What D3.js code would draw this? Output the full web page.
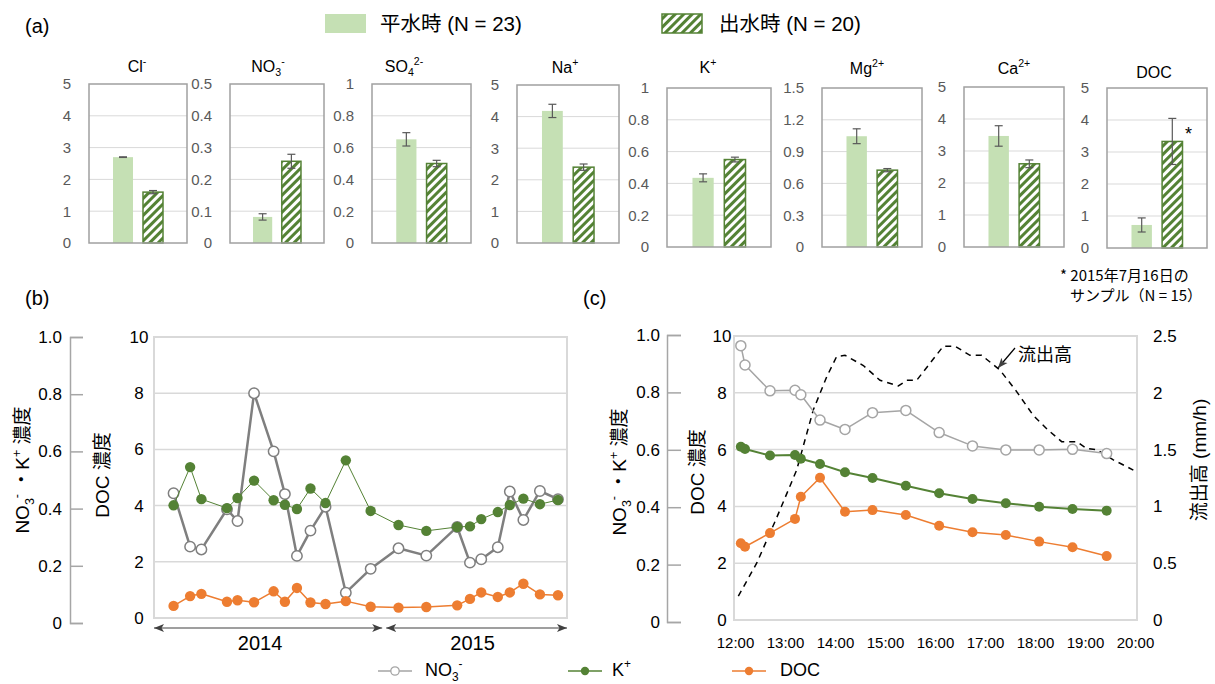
<!DOCTYPE html>
<html>
<head>
<meta charset="utf-8">
<script src="https://cdn.jsdelivr.net/npm/d3@7"></script>
<style>
  body { margin: 0; background: #fff; }
  svg text { font-family: "Liberation Sans", Arial, "Noto Sans CJK JP", sans-serif; }
</style>
</head>
<body>
<svg id="chart" width="1215" height="684"></svg>
<script>

// ---------- (a) mean concentrations, normal flow vs storm flow
var ionLabels  = ["Cl^{-}", "NO_{3}^{-}", "SO_{4}^{2-}", "Na^{+}", "K^{+}", "Mg^{2+}", "Ca^{2+}", "DOC"];
var normalMean = [2.7, 0.082, 0.652, 4.18, 0.435, 1.045, 3.47, 0.72];
var normalErr  = [0.01, 0.01, 0.042, 0.21, 0.025, 0.07, 0.32, 0.22];
var floodMean  = [1.6, 0.257, 0.50, 2.4, 0.55, 0.725, 2.6, 3.33];
var floodErr   = [0.05, 0.022, 0.02, 0.1, 0.015, 0.015, 0.12, 0.72];
var ionMax     = [5, 0.5, 1, 5, 1, 1.5, 5, 5];
var ionStep    = [1, 0.1, 0.2, 1, 0.2, 0.3, 1, 1];
var legendA    = ["平水時 (N = 23)", "出水時 (N = 20)"];
var footnote   = ["* 2015年7月16日の", "サンプル（N = 15）"];

// ---------- (b) monthly samples 2014-2015
var bDates = ["2014-03-27", "2014-04-18", "2014-05-03", "2014-06-06", "2014-06-20", "2014-07-12",
              "2014-08-07", "2014-08-22", "2014-09-07", "2014-09-25", "2014-10-15", "2014-11-11",
              "2014-12-14", "2015-01-20", "2015-02-26", "2015-04-08", "2015-04-25", "2015-05-10",
              "2015-06-01", "2015-06-17", "2015-07-05", "2015-07-27", "2015-08-20"];
var bNO3 = [0.444, 0.254, 0.244, 0.387, 0.345, 0.800, 0.593, 0.441, 0.221, 0.311, 0.396, 0.090,
            0.175, 0.248, 0.222, 0.324, 0.197, 0.209, 0.252, 0.450, 0.349, 0.452, 0.423];
var bK   = [0.401, 0.537, 0.423, 0.391, 0.427, 0.489, 0.419, 0.403, 0.388, 0.461, 0.409, 0.561,
            0.381, 0.331, 0.310, 0.324, 0.326, 0.352, 0.377, 0.402, 0.425, 0.405, 0.420];
var bDOC = [0.43, 0.78, 0.86, 0.58, 0.63, 0.56, 0.95, 0.58, 1.07, 0.55, 0.50, 0.60,
            0.40, 0.37, 0.39, 0.45, 0.68, 0.91, 0.75, 0.91, 1.22, 0.84, 0.81];
var years = ["2014", "2015"];

// ---------- (c) storm event 2015-07-16
var cTimes = ["12:07", "12:12", "12:42", "13:12", "13:19", "13:42", "14:12", "14:45",
              "15:25", "16:05", "16:45", "17:25", "18:05", "18:45", "19:26"];
var cNO3 = [0.966, 0.898, 0.807, 0.809, 0.793, 0.704, 0.671, 0.730, 0.738, 0.660, 0.613, 0.599, 0.599, 0.601, 0.586];
var cK   = [0.610, 0.602, 0.579, 0.581, 0.568, 0.549, 0.520, 0.500, 0.473, 0.446, 0.426, 0.411, 0.399, 0.391, 0.385];
var cDOC = [2.70, 2.58, 3.06, 3.56, 4.34, 5.01, 3.81, 3.87, 3.70, 3.32, 3.09, 2.99, 2.76, 2.56, 2.25];
var flowTimes  = ["12:04", "12:26", "12:50", "13:14", "13:34", "13:50", "14:02", "14:12", "14:34", "14:54",
                  "15:16", "15:26", "15:38", "15:54", "16:10", "16:24", "16:42", "16:56", "17:18", "17:38",
                  "17:58", "18:16", "18:32", "18:50", "19:02", "19:14", "19:34", "19:58"];
var flowValues = [0.21, 0.50, 0.90, 1.32, 1.85, 2.14, 2.32, 2.33, 2.24, 2.11,
                  2.06, 2.11, 2.11, 2.26, 2.41, 2.41, 2.33, 2.33, 2.20, 2.01,
                  1.80, 1.67, 1.57, 1.57, 1.51, 1.50, 1.41, 1.32];

var seriesNames = ["NO_{3}^{-}", "K^{+}", "DOC"];

// colours
var LIGHT_GREEN = "#c5e0b4", DARK_GREEN = "#548235", ORANGE = "#ed7d31";
var GRID = "#d9d9d9", TXT_GRAY = "#595959";

var svg = d3.select("#chart");
var defs = svg.append("defs");

// diagonal hatch for the storm-flow bars
var pat = defs.append("pattern")
    .attr("id", "hatch")
    .attr("patternUnits", "userSpaceOnUse")
    .attr("width", 6).attr("height", 6)
    .attr("patternTransform", "rotate(45)");
pat.append("rect").attr("width", 6).attr("height", 6).attr("fill", "#fff");
pat.append("rect").attr("width", 3).attr("height", 6).attr("fill", DARK_GREEN);

defs.append("marker")
    .attr("id", "arr")
    .attr("viewBox", "0 -5 10 10")
    .attr("refX", 10).attr("refY", 0)
    .attr("markerWidth", 10).attr("markerHeight", 10)
    .attr("markerUnits", "userSpaceOnUse")
    .attr("orient", "auto-start-reverse")
  .append("path")
    .attr("d", "M0,-4L10,0L0,4L2.5,0Z")
    .attr("fill", "#404040");

// text with _{sub} and ^{sup} parts
function rich(sel, str, fs) {
  var parts = str.match(/_\{[^}]*\}|\^\{[^}]*\}|[^_^]+/g);
  var off = 0;
  parts.forEach(function (p) {
    var type = p[0] === "_" ? "sub" : (p[0] === "^" ? "sup" : "");
    var t = type ? p.slice(2, -1) : p;
    var target = type === "sub" ? fs * 0.28 : (type === "sup" ? -fs * 0.42 : 0);
    sel.append("tspan")
        .attr("dy", target - off)
        .attr("font-size", type ? fs * 0.66 : fs)
        .text(t);
    off = target;
  });
  return sel;
}

function label(x, y, str, fs, anchor) {
  return svg.append("text")
      .attr("x", x).attr("y", y)
      .attr("font-size", fs)
      .attr("text-anchor", anchor || "start")
      .attr("fill", "#000")
      .text(str);
}

// ================= (a) =================
label(25, 33, "(a)", 20);

// legend
svg.append("rect").attr("x", 325).attr("y", 14).attr("width", 41).attr("height", 19).attr("fill", LIGHT_GREEN);
label(380, 31, legendA[0], 20.5);
svg.append("rect").attr("x", 662).attr("y", 14).attr("width", 40).attr("height", 19)
    .attr("fill", "url(#hatch)").attr("stroke", DARK_GREEN).attr("stroke-width", 1.5);
label(719, 31, legendA[1], 20.5);

// panel boxes [x0, x1, y0, y1] and title positions
var boxA   = [[89, 187, 84, 243], [230, 324, 84, 243], [372, 471, 84, 243], [517, 619, 85, 243],
              [667, 771, 88, 247], [822, 922, 88, 247], [964, 1064, 87, 247], [1107, 1207, 88, 248]];
var titleX = [137, 268, 404, 565, 708, 867, 1014, 1154];
var titleY = [72, 72, 72, 73, 73, 74, 74, 78];

ionLabels.forEach(function (name, i) {
  var b = boxA[i];
  var g = svg.append("g");
  var y = d3.scaleLinear().domain([0, ionMax[i]]).range([b[3], b[2]]);
  var x = d3.scaleBand().domain(["normal", "flood"]).range([b[0], b[1]])
      .paddingInner(1 / 3).paddingOuter(0.8);
  var ticks = d3.range(0, Math.round(ionMax[i] / ionStep[i]) + 1)
      .map(function (k) { return +(k * ionStep[i]).toFixed(2); });

  g.selectAll(".grid").data(ticks.slice(1, -1)).enter().append("line")
      .attr("x1", b[0]).attr("x2", b[1])
      .attr("y1", function (d) { return y(d); }).attr("y2", function (d) { return y(d); })
      .attr("stroke", GRID).attr("stroke-width", 1);

  var ax = g.append("g").attr("transform", "translate(" + b[0] + ",0)")
      .call(d3.axisLeft(y).tickValues(ticks).tickSize(0).tickPadding(18).tickFormat(function (d) { return String(d); }));
  ax.select(".domain").remove();
  ax.selectAll("text").attr("font-size", 15).attr("fill", TXT_GRAY)
      .attr("font-family", "\"Liberation Sans\", Arial, sans-serif");

  var rows = [
    { key: "normal", m: normalMean[i], e: normalErr[i] },
    { key: "flood",  m: floodMean[i],  e: floodErr[i] }
  ];
  g.selectAll(".bar").data(rows).enter().append("rect")
      .attr("x", function (d) { return x(d.key); })
      .attr("width", x.bandwidth())
      .attr("y", function (d) { return y(d.m); })
      .attr("height", function (d) { return y(0) - y(d.m); })
      .attr("fill", function (d) { return d.key === "normal" ? LIGHT_GREEN : "url(#hatch)"; })
      .attr("stroke", function (d) { return d.key === "normal" ? "none" : DARK_GREEN; })
      .attr("stroke-width", 1.5);

  var eb = g.selectAll(".err").data(rows).enter().append("g")
      .attr("stroke", TXT_GRAY).attr("stroke-width", 1.2);
  eb.append("line")
      .attr("x1", function (d) { return x(d.key) + x.bandwidth() / 2; })
      .attr("x2", function (d) { return x(d.key) + x.bandwidth() / 2; })
      .attr("y1", function (d) { return y(d.m - d.e); })
      .attr("y2", function (d) { return y(d.m + d.e); });
  [-1, 1].forEach(function (s) {
    eb.append("line")
        .attr("x1", function (d) { return x(d.key) + x.bandwidth() / 2 - 4; })
        .attr("x2", function (d) { return x(d.key) + x.bandwidth() / 2 + 4; })
        .attr("y1", function (d) { return y(d.m + s * d.e); })
        .attr("y2", function (d) { return y(d.m + s * d.e); });
  });

  g.append("rect")
      .attr("x", b[0]).attr("y", b[2])
      .attr("width", b[1] - b[0]).attr("height", b[3] - b[2])
      .attr("fill", "none").attr("stroke", "#a0a0a0").attr("stroke-width", 1.5);

  rich(g.append("text").attr("x", titleX[i]).attr("y", titleY[i])
      .attr("text-anchor", "middle").attr("fill", "#000"), name, 16);

  if (name === "DOC") {
    g.append("text")
        .attr("x", x("flood") + x.bandwidth() + 6)
        .attr("y", y(floodMean[i] + floodErr[i]) + 22)
        .attr("text-anchor", "middle").attr("font-size", 18).text("*");
  }
});

svg.append("text").attr("x", 1060).attr("y", 281).attr("font-size", 15)
    .style("font-family", "\"Noto Sans CJK JP\", sans-serif").text(footnote[0]);
svg.append("text").attr("x", 1070).attr("y", 301).attr("font-size", 15)
    .style("font-family", "\"Noto Sans CJK JP\", sans-serif").text(footnote[1]);

// ================= (b) =================
label(25, 305, "(b)", 20);

var parseD = d3.timeParse("%Y-%m-%d");
var xB = d3.scaleTime().domain([parseD("2014-03-01"), parseD("2015-09-01")]).range([154, 567]);
var yB = d3.scaleLinear().domain([0, 10]).range([618, 337]);
var yBL = d3.scaleLinear().domain([0, 1]).range([618, 337]);
var yBLaxis = d3.scaleLinear().domain([0, 1]).range([623, 337]);

var gb = svg.append("g");
gb.selectAll(".grid").data([2, 4, 6, 8]).enter().append("line")
    .attr("x1", 154).attr("x2", 567)
    .attr("y1", function (d) { return yB(d); }).attr("y2", function (d) { return yB(d); })
    .attr("stroke", GRID).attr("stroke-width", 1.5);
gb.append("rect").attr("x", 154).attr("y", 337).attr("width", 567 - 154).attr("height", 618 - 337)
    .attr("fill", "none").attr("stroke", GRID).attr("stroke-width", 2);

// DOC labels sit centred in the gap, as in the original
var axBDoc = gb.append("g").attr("transform", "translate(154,0)")
    .call(d3.axisLeft(yB).tickValues([0, 2, 4, 6, 8, 10]).tickSize(0).tickPadding(15));
axBDoc.select(".domain").remove();
axBDoc.selectAll("text").attr("text-anchor", "middle");

var axBL = gb.append("g").attr("transform", "translate(70,0)")
    .call(d3.axisLeft(yBLaxis).tickValues([0, 0.2, 0.4, 0.6, 0.8, 1]).tickSize(-13).tickPadding(8)
      .tickFormat(function (d) { return d === 0 ? "0" : d.toFixed(1); }));
axBL.selectAll("line, path").attr("stroke", "#a6a6a6").attr("stroke-width", 1.5);
gb.selectAll(".tick text").attr("font-size", 17).attr("fill", "#000");

rich(svg.append("text").attr("transform", "translate(29,470) rotate(-90)")
    .attr("text-anchor", "middle"), "NO_{3}^{-} ・K^{+} 濃度", 19);
rich(svg.append("text").attr("transform", "translate(109,475) rotate(-90)")
    .attr("text-anchor", "middle"), "DOC 濃度", 19);

function series(g, xs, ys, color, width, r, open) {
  var pts = xs.map(function (d, k) { return [d, ys[k]]; });
  g.append("path").datum(pts)
      .attr("d", d3.line())
      .attr("fill", "none").attr("stroke", color).attr("stroke-width", width)
      .attr("stroke-linejoin", "round");
  g.selectAll(null).data(pts).enter().append("circle")
      .attr("cx", function (d) { return d[0]; }).attr("cy", function (d) { return d[1]; })
      .attr("r", r)
      .attr("fill", open ? "#fff" : color)
      .attr("stroke", color).attr("stroke-width", open ? 1.5 : 0);
}

var bX = bDates.map(function (d) { return xB(parseD(d)); });
series(gb, bX, bNO3.map(yBL), "#7f7f7f", 2.5, 5.2, true);
series(gb, bX, bK.map(yBL), DARK_GREEN, 1, 5.2, false);
series(gb, bX, bDOC.map(yB), ORANGE, 1.5, 5.2, false);

// year arrows
var xYear = xB(parseD("2015-01-01"));
var yearSpans = [[xB.range()[0], xYear - 2], [xYear + 2, xB.range()[1]]];
yearSpans.forEach(function (s, k) {
  gb.append("line").attr("x1", s[0]).attr("x2", s[1]).attr("y1", 628).attr("y2", 628)
      .attr("stroke", "#404040").attr("stroke-width", 1.2)
      .attr("marker-start", "url(#arr)").attr("marker-end", "url(#arr)");
  label((s[0] + s[1]) / 2 - (k === 0 ? 8 : 4), 650, years[k], 20, "middle");
});

// ================= (c) =================
label(583, 305, "(c)", 20);

var parseT = d3.timeParse("%Y-%m-%d %H:%M");
function tm(s) { return parseT("2015-07-16 " + s); }
var xC = d3.scaleTime().domain([tm("12:00"), tm("20:00")]).range([735, 1135]);
var yC = d3.scaleLinear().domain([0, 10]).range([620, 336]);
var yCL = d3.scaleLinear().domain([0, 1]).range([620, 336]);
var yCLaxis = d3.scaleLinear().domain([0, 1]).range([622, 335]);
var yCR = d3.scaleLinear().domain([0, 2.5]).range([620, 336]);

var gc = svg.append("g");
gc.selectAll(".grid").data([2, 4, 6, 8]).enter().append("line")
    .attr("x1", 734).attr("x2", 1137)
    .attr("y1", function (d) { return yC(d); }).attr("y2", function (d) { return yC(d); })
    .attr("stroke", GRID).attr("stroke-width", 1.5);
gc.append("rect").attr("x", 734).attr("y", 336).attr("width", 1137 - 734).attr("height", 620 - 336)
    .attr("fill", "none").attr("stroke", GRID).attr("stroke-width", 2);

var axCDoc = gc.append("g").attr("transform", "translate(734,0)")
    .call(d3.axisLeft(yC).tickValues([0, 2, 4, 6, 8, 10]).tickSize(0).tickPadding(12));
axCDoc.select(".domain").remove();
axCDoc.selectAll("text").attr("text-anchor", "middle");

var axCL = gc.append("g").attr("transform", "translate(667,0)")
    .call(d3.axisLeft(yCLaxis).tickValues([0, 0.2, 0.4, 0.6, 0.8, 1]).tickSize(-14).tickPadding(7)
      .tickFormat(function (d) { return d === 0 ? "0" : d.toFixed(1); }));
axCL.selectAll("line, path").attr("stroke", "#a6a6a6").attr("stroke-width", 1.5);

var axCR = gc.append("g").attr("transform", "translate(1137,0)")
    .call(d3.axisRight(yCR).tickValues([0, 0.5, 1, 1.5, 2, 2.5]).tickSize(0).tickPadding(16)
      .tickFormat(function (d) { return String(d); }));
axCR.select(".domain").remove();
gc.selectAll(".tick text").attr("font-size", 17).attr("fill", "#000");

var axCX = gc.append("g").attr("transform", "translate(0,620)")
    .call(d3.axisBottom(xC).ticks(d3.timeHour.every(1)).tickSize(0).tickPadding(17)
      .tickFormat(d3.timeFormat("%H:%M")));
axCX.select(".domain").remove();
axCX.selectAll("text").attr("font-size", 15).attr("fill", "#000");

rich(svg.append("text").attr("transform", "translate(626,472) rotate(-90)")
    .attr("text-anchor", "middle"), "NO_{3}^{-} ・K^{+} 濃度", 19);
rich(svg.append("text").attr("transform", "translate(704,472) rotate(-90)")
    .attr("text-anchor", "middle"), "DOC 濃度", 19);
rich(svg.append("text").attr("transform", "translate(1206,460) rotate(-90)")
    .attr("text-anchor", "middle"), "流出高 (mm/h)", 19);

// runoff (dashed)
gc.append("path")
    .datum(flowTimes.map(function (t, k) { return [xC(tm(t)), yCR(flowValues[k])]; }))
    .attr("d", d3.line())
    .attr("fill", "none").attr("stroke", "#000").attr("stroke-width", 1.5)
    .attr("stroke-dasharray", "6,5");

var cX = cTimes.map(function (t) { return xC(tm(t)); });
series(gc, cX, cNO3.map(yCL), "#a5a5a5", 1.5, 5, true);
series(gc, cX, cK.map(yCL), DARK_GREEN, 2, 5, false);
series(gc, cX, cDOC.map(yC), ORANGE, 1.5, 5, false);

// annotation
gc.append("line").attr("x1", 1015).attr("y1", 348).attr("x2", 998).attr("y2", 368)
    .attr("stroke", "#000").attr("stroke-width", 1.2).attr("marker-end", "url(#arr)");
svg.append("text").attr("x", 1018).attr("y", 361).attr("font-size", 18)
    .style("font-family", "\"Noto Sans CJK JP\", sans-serif").text("流出高");

// ================= bottom legend =================
var legB = [
  { x0: 378, color: "#a5a5a5", open: true,  name: seriesNames[0], tx: 425 },
  { x0: 568, color: DARK_GREEN, open: false, name: seriesNames[1], tx: 612 },
  { x0: 732, color: ORANGE,     open: false, name: seriesNames[2], tx: 780 }
];
var gl = svg.append("g");
legB.forEach(function (d) {
  gl.append("line").attr("x1", d.x0).attr("x2", d.x0 + 34).attr("y1", 671).attr("y2", 671)
      .attr("stroke", d.color).attr("stroke-width", 1.5);
  gl.append("circle").attr("cx", d.x0 + 17).attr("cy", 671).attr("r", 4.2)
      .attr("fill", d.open ? "#fff" : d.color).attr("stroke", d.color).attr("stroke-width", d.open ? 1.3 : 0);
  rich(gl.append("text").attr("x", d.tx).attr("y", 676), d.name, 18);
});

</script>
</body>
</html>
